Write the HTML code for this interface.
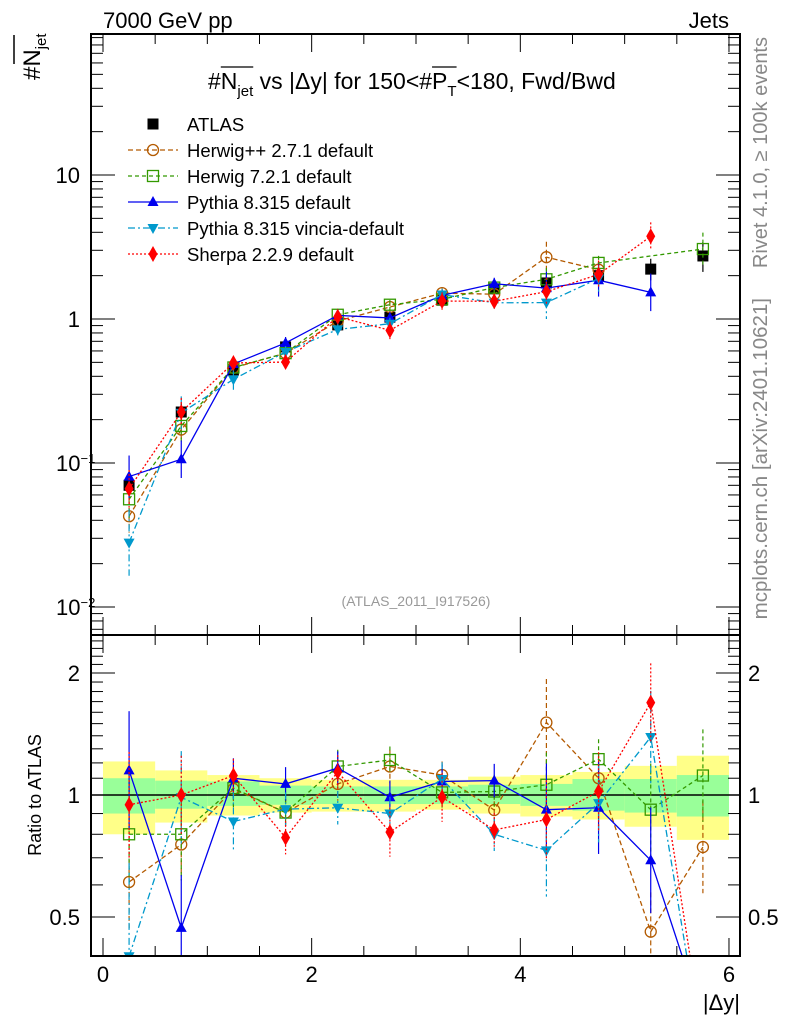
<!DOCTYPE html>
<html><head><meta charset="utf-8"><style>
body{margin:0;background:#fff}
svg{display:block;font-family:"Liberation Sans",sans-serif}
</style></head><body>
<svg id="c" width="786" height="1024" viewBox="0 0 786 1024" xmlns="http://www.w3.org/2000/svg"></svg>
<script>
const binCenters=[0.25,0.75,1.25,1.75,2.25,2.75,3.25,3.75,4.25,4.75,5.25,5.75];
const atlasValues=[0.070,0.226,0.443,0.64,0.91,1.03,1.35,1.62,1.78,2.0,2.22,2.74];
const bandYellowUp=[1.21,1.15,1.12,1.10,1.09,1.09,1.09,1.11,1.12,1.14,1.18,1.25];
const bandYellowDn=[0.80,0.855,0.89,0.905,0.91,0.91,0.92,0.90,0.885,0.87,0.835,0.775];
const bandGreenUp=[1.10,1.085,1.08,1.055,1.05,1.05,1.05,1.06,1.065,1.095,1.095,1.12];
const bandGreenDn=[0.90,0.925,0.94,0.946,0.95,0.95,0.95,0.95,0.94,0.915,0.905,0.885];
const herwigppRatio=[0.61,0.755,1.035,0.905,1.065,1.176,1.12,0.918,1.51,1.10,0.46,0.744];
const herwig7Ratio=[0.80,0.80,1.04,0.905,1.176,1.22,1.015,1.02,1.06,1.226,0.92,1.117];
const pythiaRatio=[1.15,0.47,1.10,1.065,1.165,0.987,1.08,1.085,0.92,0.93,0.69,0.28];
const vinciaRatio=[0.40,0.987,0.86,0.923,0.93,0.90,1.095,0.80,0.73,0.955,1.39,0.23];
const sherpaRatio=[0.946,1.0,1.117,0.785,1.14,0.81,0.987,0.82,0.87,1.02,1.69,0.25];
const herwigppErr=[0.3,0.2,0.1,0.08,0.1,0.1,0.08,0.1,0.28,0.15,0.25,0.3];
const herwig7Err=[0.35,0.3,0.12,0.08,0.1,0.08,0.1,0.1,0.2,0.12,0.3,0.3];
const pythiaErr=[0.4,0.35,0.12,0.1,0.1,0.1,0.1,0.1,0.3,0.3,0.35,0];
const vinciaErr=[0.7,0.3,0.18,0.1,0.1,0.1,0.1,0.1,0.3,0.25,0.3,0];
const sherpaErr=[0.35,0.25,0.1,0.1,0.1,0.15,0.15,0.1,0.25,0.25,0.25,0];
const mainShow=[[1,1,1,1,1,1,1,1,1,1,0,0],[1,1,1,1,1,1,1,1,1,1,0,1],[1,1,1,1,1,1,1,1,1,1,1,0],[1,1,1,1,1,1,1,1,1,1,0,0],[1,1,1,1,1,1,1,1,1,1,1,0]];
const xTicks=[0,2,4,6];

const S=document.getElementById('c');const NS='http://www.w3.org/2000/svg';
function el(t,a,p){const e=document.createElementNS(NS,t);for(const k in a)e.setAttribute(k,a[k]);(p||S).appendChild(e);return e;}
const L=91,R=740,T=34,MB=635,RB=956;
const xs=v=>103+v*104.33;
const ym=v=>319-Math.log10(v)*144;
const yr=v=>795-Math.log2(v)*122;
const defs=el('defs',{});
const c1=el('clipPath',{id:'cm'},defs);el('rect',{x:L,y:T,width:R-L,height:MB-T},c1);
const c2=el('clipPath',{id:'cr'},defs);el('rect',{x:L,y:MB,width:R-L,height:RB-MB},c2);

const band=el('g',{'clip-path':'url(#cr)'});

binCenters.forEach((c,i)=>{
 el('rect',{x:xs(c-0.25),y:yr(bandYellowUp[i]),width:xs(0.5)-xs(0),height:yr(bandYellowDn[i])-yr(bandYellowUp[i]),fill:'#ffff88'},band);
 el('rect',{x:xs(c-0.25),y:yr(bandGreenUp[i]),width:xs(0.5)-xs(0),height:yr(bandGreenDn[i])-yr(bandGreenUp[i]),fill:'#99ff99'},band);
});
el('line',{x1:L,x2:R,y1:yr(1),y2:yr(1),stroke:'#000','stroke-width':1.5});

function marker(g,type,x,y,col){
 const s=5.5;
 if(type==='circle')el('circle',{cx:x,cy:y,r:5.5,fill:'none',stroke:col,'stroke-width':1.3},g);
 else if(type==='sq')el('rect',{x:x-s,y:y-s,width:2*s,height:2*s,fill:'none',stroke:col,'stroke-width':1.3},g);
 else if(type==='fsq')el('rect',{x:x-s,y:y-s,width:2*s,height:2*s,fill:col},g);
 else if(type==='tri')el('polygon',{points:`${x},${y-6} ${x-5.5},${y+4} ${x+5.5},${y+4}`,fill:col},g);
 else if(type==='itri')el('polygon',{points:`${x},${y+6} ${x-5.5},${y-4} ${x+5.5},${y-4}`,fill:col},g);
 else if(type==='dia')el('polygon',{points:`${x},${y-8} ${x-4.5},${y} ${x},${y+8} ${x+4.5},${y}`,fill:col},g);
}
const ga=el('g',{'clip-path':'url(#cm)'});

binCenters.forEach((c,i)=>{const v=atlasValues[i];
 el('line',{x1:xs(c),x2:xs(c),y1:ym(v*bandYellowUp[i]),y2:ym(v*bandYellowDn[i]),stroke:'#000','stroke-width':1.2},ga);
 marker(ga,'fsq',xs(c),ym(v),'#000');});

const models=[
 {n:'herwigpp',r:herwigppRatio,e:herwigppErr,col:'#b35a00',dash:'5,3',m:'circle',lab:'Herwig++ 2.7.1 default'},
 {n:'herwig7',r:herwig7Ratio,e:herwig7Err,col:'#339900',dash:'4,3',m:'sq',lab:'Herwig 7.2.1 default'},
 {n:'pythia',r:pythiaRatio,e:pythiaErr,col:'#0000ee',dash:'',m:'tri',lab:'Pythia 8.315 default'},
 {n:'vincia',r:vinciaRatio,e:vinciaErr,col:'#0099cc',dash:'7,3,2,3',m:'itri',lab:'Pythia 8.315 vincia-default'},
 {n:'sherpa',r:sherpaRatio,e:sherpaErr,col:'#ff0000',dash:'2,2',m:'dia',lab:'Sherpa 2.2.9 default'}];
models.forEach((md,k)=>{
 const g=el('g',{'clip-path':'url(#cm)'});
 
 let pts=[];
 binCenters.forEach((c,i)=>{if(mainShow[k][i])pts.push([xs(c),ym(md.r[i]*atlasValues[i])]);});
 el('polyline',{points:pts.map(p=>p.join(',')).join(' '),fill:'none',stroke:md.col,'stroke-width':1.3,'stroke-dasharray':md.dash},g);
 binCenters.forEach((c,i)=>{if(!mainShow[k][i])return;const v=md.r[i]*atlasValues[i];
  el('line',{x1:xs(c),x2:xs(c),y1:ym(v*(1+md.e[i])),y2:ym(v/(1+md.e[i])),stroke:md.col,'stroke-width':1.2,'stroke-dasharray':md.dash},g);
  marker(g,md.m,xs(c),ym(v),md.col);});
 const h=el('g',{'clip-path':'url(#cr)'});
 
 el('polyline',{points:binCenters.map((c,i)=>xs(c)+','+yr(md.r[i])).join(' '),fill:'none',stroke:md.col,'stroke-width':1.3,'stroke-dasharray':md.dash},h);
 binCenters.forEach((c,i)=>{const v=md.r[i];
  el('line',{x1:xs(c),x2:xs(c),y1:yr(v*(1+md.e[i])),y2:yr(v/(1+md.e[i])),stroke:md.col,'stroke-width':1.2,'stroke-dasharray':md.dash},h);
  marker(h,md.m,xs(c),yr(v),md.col);});
});

[[T,MB],[MB,RB]].forEach(([a,b])=>{
 el('rect',{x:L,y:a,width:R-L,height:b-a,fill:'none',stroke:'#000','stroke-width':2});
 for(let v=0;v<=6.001;v+=0.5){const maj=Math.abs(v-Math.round(v/2)*2)<1e-6;const len=maj?18:10;
  el('line',{x1:xs(v),x2:xs(v),y1:b,y2:b-len,stroke:'#000','stroke-width':1});
  el('line',{x1:xs(v),x2:xs(v),y1:a,y2:a+len,stroke:'#000','stroke-width':1});}
});
for(let d=-3;d<=1;d++){for(let m=1;m<=9;m++){const v=m*Math.pow(10,d);const y=ym(v);if(y<T||y>MB)continue;const len=m===1?24:12;
 el('line',{x1:L,x2:L+len,y1:y,y2:y,stroke:'#000'});el('line',{x1:R,x2:R-len,y1:y,y2:y,stroke:'#000'});}}
[0.4,0.5,0.6,0.7,0.8,0.9,1,1.1,1.2,1.3,1.4,1.5,1.6,1.7,1.8,1.9,2,2.1,2.2,2.3,2.4].forEach(v=>{const y=yr(v);if(y<MB||y>RB)return;const len=(v===0.5||v===1||v===2)?24:12;
 el('line',{x1:L,x2:L+len,y1:y,y2:y,stroke:'#000'});el('line',{x1:R,x2:R-len,y1:y,y2:y,stroke:'#000'});});
function txt(s,a,name,p){const t=el('text',a,p);t.innerHTML=s;return t;}
[[10,'10'],[1,'1'],[0.1,'10<tspan dy="-8" font-size="13">−1</tspan>'],[0.01,'10<tspan dy="-8" font-size="13">−2</tspan>']].forEach(([v,s])=>{
 txt(s,{x:v<1?56:80,y:ym(v)+8,'font-size':22,'text-anchor':v<1?'start':'end'},'y-tick-label');});
[[2,'2'],[1,'1'],[0.5,'0.5']].forEach(([v,s])=>{
 txt(s,{x:80,y:yr(v)+8,'font-size':22,'text-anchor':'end'},'ratio-y-tick-label');
 txt(s,{x:748,y:yr(v)+8,'font-size':22},'ratio-y-tick-label-right');});
xTicks.forEach(v=>txt(String(v),{x:xs(v),y:982,'font-size':22,'text-anchor':'middle'},'x-tick-label'));
txt('|Δy|',{x:740,y:1010,'font-size':22,'text-anchor':'end'},'x-axis-title');
txt('7000 GeV pp',{x:103,y:28,'font-size':22},'header-left');
txt('Jets',{x:729,y:28,'font-size':22,'text-anchor':'end'},'header-right');
txt('#N<tspan dy="6" font-size="15">jet</tspan>',{x:0,y:0,'font-size':24,transform:'translate(40,80) rotate(-90)'},'y-axis-title');
el('line',{x1:14,x2:14,y1:35,y2:64,stroke:'#000','stroke-width':1.5});
txt('Ratio to ATLAS',{x:0,y:0,'font-size':18,'text-anchor':'middle',transform:'translate(41,795) rotate(-90)'},'ratio-y-axis-title');
txt('Rivet 4.1.0, ≥ 100k events',{x:0,y:0,'font-size':20,fill:'#888','text-anchor':'end',transform:'translate(767,37) rotate(-90)'},'rivet-label');
txt('mcplots.cern.ch [arXiv:2401.10621]',{x:0,y:0,'font-size':20.5,fill:'#888','text-anchor':'end',transform:'translate(767,298) rotate(-90)'},'mcplots-label');
txt('(ATLAS_2011_I917526)',{x:416,y:606,'font-size':14,fill:'#999','text-anchor':'middle'},'analysis-id');
const title=txt('#N<tspan dy="7" font-size="15">jet</tspan><tspan dy="-7"> vs |Δy| for 150&lt;#P</tspan><tspan dy="7" font-size="15">T</tspan><tspan dy="-7">&lt;180, Fwd/Bwd</tspan>',{x:208,y:89,'font-size':23},'plot-title');
try{
 const full=title.textContent;
 const nI=1, jE=4, pI=full.indexOf('#P')+1, tI=pI+1;
 const a=title.getExtentOfChar(nI), b=title.getExtentOfChar(jE), c=title.getExtentOfChar(pI), d=title.getExtentOfChar(tI);
 el('line',{x1:a.x,x2:b.x+b.width,y1:67,y2:67,stroke:'#000','stroke-width':1.3});
 el('line',{x1:c.x,x2:d.x+d.width,y1:67,y2:67,stroke:'#000','stroke-width':1.3});
}catch(e){}
const lg=el('g',{});
const ly0=124;
marker(lg,'fsq',153,ly0,'#000');
txt('ATLAS',{x:187,y:ly0+7,'font-size':18.5},'legend-entry-atlas',lg);
models.forEach((md,k)=>{const y=ly0+26*(k+1);
 el('line',{x1:128,x2:178,y1:y,y2:y,stroke:md.col,'stroke-width':1.3,'stroke-dasharray':md.dash},lg);
 marker(lg,md.m,153,y,md.col);
 txt(md.lab,{x:187,y:y+7,'font-size':18.5},'legend-entry-'+md.n,lg);});
</script>
</body></html>
